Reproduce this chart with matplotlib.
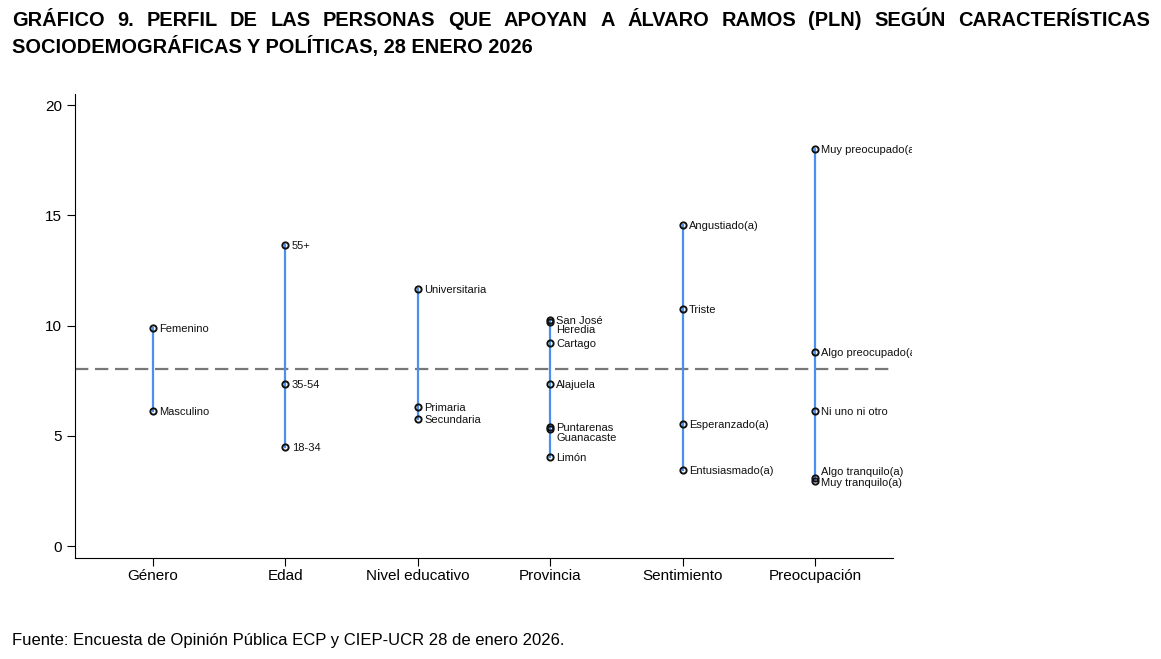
import matplotlib.pyplot as plt
from matplotlib.transforms import Bbox

plt.rcParams['font.family'] = ['Liberation Sans', 'DejaVu Sans']

categorias = ['Género', 'Edad', 'Nivel educativo', 'Provincia', 'Sentimiento', 'Preocupación']
grupos = [
    ['Femenino', 'Masculino'],
    ['55+', '35-54', '18-34'],
    ['Universitaria', 'Primaria', 'Secundaria'],
    ['San José', 'Heredia', 'Cartago', 'Alajuela', 'Puntarenas', 'Guanacaste', 'Limón'],
    ['Angustiado(a)', 'Triste', 'Esperanzado(a)', 'Entusiasmado(a)'],
    ['Muy preocupado(a)', 'Algo preocupado(a)', 'Ni uno ni otro', 'Algo tranquilo(a)', 'Muy tranquilo(a)'],
]
valores = [
    [9.89, 6.12],
    [13.65, 7.35, 4.49],
    [11.66, 6.30, 5.76],
    [10.25, 10.16, 9.21, 7.35, 5.40, 5.31, 4.04],
    [14.56, 10.75, 5.53, 3.45],
    [18.0, 8.80, 6.12, 3.08, 2.95],
]
promedio = 8.03

# desplazamiento vertical de etiquetas que se traslapan
ajustes = {'San José': 0.0, 'Heredia': -0.35, 'Puntarenas': 0.0, 'Guanacaste': -0.37,
           'Algo tranquilo(a)': 0.3, 'Muy tranquilo(a)': -0.05}

fig = plt.figure(figsize=(11.61, 6.59), dpi=100)
ax = fig.add_axes([75 / 1161, 1 - 558 / 659, (893 - 75) / 1161, (558 - 94) / 659])

clip = Bbox.from_extents(0, 0, 912, 659)
for i, (labs, vals) in enumerate(zip(grupos, valores)):
    x = i + 1
    ax.plot([x, x], [min(vals), max(vals)], color='#4a90f0', lw=1.6, zorder=2)
    ax.plot([x] * len(vals), vals, 'o', ms=4.5, mfc='none', mec='#111111', mew=1.4, zorder=3)
    for lab, v in zip(labs, vals):
        dy = ajustes.get(lab, 0)
        t = ax.annotate(lab, (x, v + dy), xytext=(4.5, -0.5), textcoords='offset points',
                        fontsize=8, va='center', ha='left', color='#111111',
                        annotation_clip=False)
        t.set_clip_box(clip)
        t.set_clip_on(True)

ax.axhline(promedio, color='#777777', lw=1.6, ls=(0, (6, 3)), zorder=1)

ax.set_xlim(0.41, 6.59)
ax.set_ylim(-0.54, 20.5)
ax.set_xticks(range(1, 7))
ax.set_xticklabels(categorias, fontsize=11)
ax.set_yticks([0, 5, 10, 15, 20])
ax.tick_params(axis='y', labelsize=11, length=6, direction='out')
ax.tick_params(axis='x', length=6, direction='out', pad=2)
for s in ['top', 'right']:
    ax.spines[s].set_visible(False)

# titulo justificado
fig.canvas.draw()
rend = fig.canvas.get_renderer()
linea1 = 'GRÁFICO 9. PERFIL DE LAS PERSONAS QUE APOYAN A ÁLVARO RAMOS (PLN) SEGÚN CARACTERÍSTICAS'.split()
x0, x1 = 12, 1150
textos = [fig.text(0, 1 - 20 / 659, w, fontsize=14.4, fontweight='bold', va='center') for w in linea1]
anchos = [t.get_window_extent(rend).width for t in textos]
hueco = (x1 - x0 - sum(anchos)) / (len(textos) - 1)
pos = x0
for t, w in zip(textos, anchos):
    t.set_x(pos / 1161)
    pos += w + hueco
fig.text(12 / 1161, 1 - 47 / 659, 'SOCIODEMOGRÁFICAS Y POLÍTICAS, 28 ENERO 2026',
         fontsize=14.4, fontweight='bold', va='center')

fig.text(12 / 1161, 1 - 641 / 659,
         'Fuente: Encuesta de Opinión Pública ECP y CIEP-UCR 28 de enero 2026.',
         fontsize=12, va='center')

fig.savefig('out.png', dpi=100)
